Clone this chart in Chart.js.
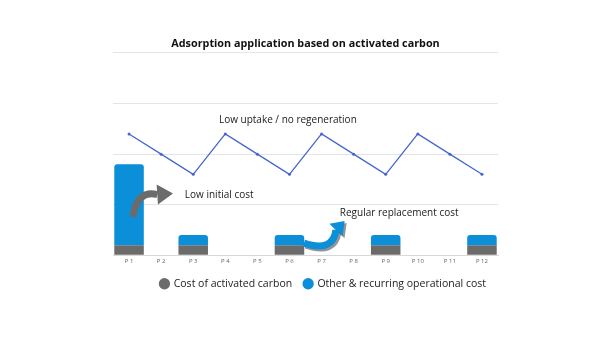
<!DOCTYPE html>
<html>
<head>
<meta charset="utf-8">
<script src="https://cdn.jsdelivr.net/npm/chart.js@4.4.1/dist/chart.umd.min.js"></script>
<style>
  html, body { margin: 0; padding: 0; background: #fff; }
  #wrap { width: 600px; height: 337px; }
</style>
</head>
<body>
<div id="wrap"><canvas id="chart"></canvas></div>
<script>
// periods along the x axis
const periods = ['P 1', 'P 2', 'P 3', 'P 4', 'P 5', 'P 6', 'P 7', 'P 8', 'P 9', 'P 10', 'P 11', 'P 12'];

// stacked cost bars (only on replacement periods)
const carbonCost = [0.2, null, 0.2, null, null, 0.2, null, null, 0.2, null, null, 0.2];
const operationalCost = [1.6, null, 0.2, null, null, 0.2, null, null, 0.2, null, null, 0.2];

// uptake curve drawn above the bars
const uptake = [2.4, 2.0, 1.6, 2.4, 2.0, 1.6, 2.4, 2.0, 1.6, 2.4, 2.0, 1.6];

const seriesNames = ['Cost of activated carbon', 'Other & recurring operational cost'];
const titleText = 'Adsorption application based on activated carbon';

const GREY = '#6b6b6b';
const BLUE = '#0a8fd8';
const LINE = '#4466cc';
const FONT = "'Open Sans', sans-serif";

// curved arrow: quadratic shaft + triangular head
function curvedArrow(ctx, p0, c, p1, tip, w, headW, color) {
  ctx.save();
  ctx.strokeStyle = color;
  ctx.fillStyle = color;
  ctx.lineWidth = w;
  ctx.lineCap = 'butt';
  ctx.beginPath();
  ctx.moveTo(p0[0], p0[1]);
  ctx.quadraticCurveTo(c[0], c[1], p1[0], p1[1]);
  ctx.stroke();
  const dx = tip[0] - p1[0], dy = tip[1] - p1[1];
  const len = Math.hypot(dx, dy);
  const nx = -dy / len, ny = dx / len;
  ctx.beginPath();
  ctx.moveTo(p1[0] + nx * headW / 2, p1[1] + ny * headW / 2);
  ctx.lineTo(tip[0], tip[1]);
  ctx.lineTo(p1[0] - nx * headW / 2, p1[1] - ny * headW / 2);
  ctx.closePath();
  ctx.fill();
  ctx.restore();
}

const notes = {
  id: 'notes',
  afterDatasetsDraw(chart) {
    const { ctx, scales: { x, y } } = chart;
    const P = (i, v) => [x.getPixelForValue(i), y.getPixelForValue(v)];

    // grey arrow next to the first bar
    curvedArrow(ctx, P(0.12, 0.76), P(0.25, 1.3), P(0.88, 1.2), P(1.37, 1.22), 7, 20, GREY);

    // blue arrow with a soft shadow
    const a = [P(5.45, 0.24), P(6.35, 0.05), P(6.45, 0.5), P(6.72, 0.68)];
    ctx.save();
    ctx.translate(2, 2);
    curvedArrow(ctx, ...a, 7, 18, 'rgba(60,60,60,0.55)');
    ctx.restore();
    curvedArrow(ctx, ...a, 7, 18, BLUE);

    ctx.save();
    ctx.fillStyle = '#1a1a1a';
    ctx.font = '10px ' + FONT;
    ctx.textBaseline = 'middle';
    ctx.textAlign = 'center';
    let p = P(4.95, 2.68);
    ctx.fillText('Low uptake / no regeneration', p[0], p[1]);
    ctx.textAlign = 'left';
    p = P(1.74, 1.18);
    ctx.fillText('Low initial cost', p[0], p[1]);
    p = P(6.57, 0.84);
    ctx.fillText('Regular replacement cost', p[0], p[1]);
    ctx.restore();
  }
};

new Chart(document.getElementById('chart'), {
  type: 'bar',
  data: {
    labels: periods,
    datasets: [
      {
        type: 'line',
        label: 'uptake',
        data: uptake,
        borderColor: LINE,
        backgroundColor: LINE,
        borderWidth: 1.2,
        pointRadius: 1.5,
        pointBorderWidth: 0,
        stack: 'line',
        order: 0
      },
      {
        label: seriesNames[0],
        data: carbonCost,
        backgroundColor: GREY,
        stack: 'cost',
        order: 1
      },
      {
        label: seriesNames[1],
        data: operationalCost,
        backgroundColor: BLUE,
        borderRadius: { topLeft: 3, topRight: 3 },
        borderSkipped: 'bottom',
        stack: 'cost',
        order: 1
      }
    ]
  },
  options: {
    responsive: true,
    maintainAspectRatio: false,
    animation: false,
    layout: { padding: { left: 113, right: 102, top: 37, bottom: 38 } },
    datasets: { bar: { barPercentage: 0.92, categoryPercentage: 1 } },
    plugins: {
      title: {
        display: true,
        text: titleText,
        color: '#111',
        font: { family: FONT, size: 10.8, weight: 'bold' },
        padding: { top: 0, bottom: 3 }
      },
      legend: {
        position: 'bottom',
        align: 'end',
        labels: {
          filter: item => item.datasetIndex > 0,
          usePointStyle: true,
          pointStyle: 'circle',
          boxWidth: 8,
          boxHeight: 8,
          padding: 12,
          color: '#222',
          font: { family: FONT, size: 10.5 }
        }
      },
      tooltip: { enabled: false }
    },
    scales: {
      x: {
        stacked: true,
        grid: { display: false, drawTicks: false },
        border: { color: '#d8d8d8' },
        ticks: { color: '#666', font: { family: FONT, size: 6 }, padding: 2, maxRotation: 0 }
      },
      y: {
        stacked: true,
        min: 0,
        max: 4,
        ticks: { display: false, stepSize: 1 },
        grid: { color: '#e4e4e4', drawTicks: false },
        border: { display: false }
      }
    }
  },
  plugins: [notes]
});
</script>
</body>
</html>
